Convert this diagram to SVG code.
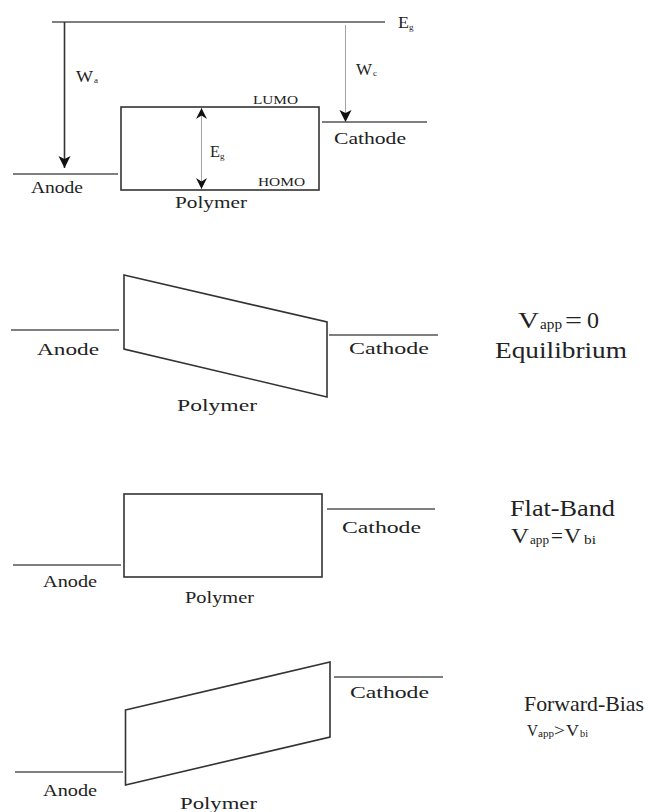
<svg xmlns="http://www.w3.org/2000/svg" width="651" height="812" viewBox="0 0 651 812">
<style>
  text { font-family: "Liberation Serif", "Times New Roman", serif; fill: #222; }
  .lbl { font-size: 17px; }
  .lbl1 { font-size: 16px; }
  .small { font-size: 12.5px; }
  .big { font-size: 23px; }
  .sub { font-size: 9px; }
  .level { stroke: #555; stroke-width: 1.6; fill: none; }
  .band { stroke: #333; stroke-width: 1.6; fill: #fff; }
  .thick { stroke: #333; stroke-width: 1.6; fill: none; }
  .thin { stroke: #999; stroke-width: 0.9; fill: none; }
</style>
<defs>
  <marker id="headBig" markerUnits="userSpaceOnUse" markerWidth="13" markerHeight="13" refX="12" refY="6" orient="auto">
    <path d="M0,0 L12,6 L0,12 L3,6 z" fill="#111"/>
  </marker>
  <marker id="headSmall" markerUnits="userSpaceOnUse" markerWidth="12" markerHeight="12" refX="11" refY="5.5" orient="auto-start-reverse">
    <path d="M0,0 L11,5.5 L0,11 L3.5,5.5 z" fill="#111"/>
  </marker>
</defs>

<rect width="651" height="812" fill="#fff"/>

<!-- Panel 1: energy levels -->
<g id="vacuum-level">
  <line class="level" x1="52" y1="22" x2="385" y2="22"/>
  <text x="398" y="28" style="font-size:17px" textLength="11" lengthAdjust="spacingAndGlyphs">E</text>
  <text x="409" y="30" class="sub">g</text>
</g>
<g id="p1-anode">
  <line class="level" x1="13" y1="174" x2="118" y2="174"/>
  <text x="31" y="193" class="lbl1" textLength="52" lengthAdjust="spacingAndGlyphs">Anode</text>
</g>
<g id="p1-polymer">
  <rect class="band" x="121" y="107" width="198" height="83"/>
  <text x="253" y="104" class="small" textLength="45" lengthAdjust="spacingAndGlyphs">LUMO</text>
  <text x="258" y="186" class="small" textLength="47" lengthAdjust="spacingAndGlyphs">HOMO</text>
  <text x="175" y="208" class="lbl1" textLength="72" lengthAdjust="spacingAndGlyphs">Polymer</text>
  <text x="210" y="157" class="lbl1" textLength="10" lengthAdjust="spacingAndGlyphs">E</text>
  <text x="220" y="159" class="sub">g</text>
</g>
<g id="p1-cathode">
  <line class="level" x1="322" y1="122" x2="427" y2="122"/>
  <text x="334" y="144" class="lbl1" textLength="72" lengthAdjust="spacingAndGlyphs">Cathode</text>
</g>

<g id="connectors">
  <line class="thick" x1="64.5" y1="22" x2="64.5" y2="168" marker-end="url(#headBig)"/>
  <line class="thin" x1="345.5" y1="25" x2="345.5" y2="122" marker-end="url(#headBig)"/>
  <line class="thin" x1="201.5" y1="108" x2="201.5" y2="189" marker-start="url(#headSmall)" marker-end="url(#headSmall)"/>
</g>
<g id="work-function-labels">
  <text x="76" y="82" class="lbl1" textLength="17" lengthAdjust="spacingAndGlyphs">W</text>
  <text x="94" y="83" class="sub" font-size="8">a</text>
  <text x="356" y="75" class="lbl1" textLength="16" lengthAdjust="spacingAndGlyphs">W</text>
  <text x="373" y="76" class="sub">c</text>
</g>

<!-- Panel 2: equilibrium -->
<g id="p2-anode">
  <line class="level" x1="11" y1="330" x2="119" y2="330"/>
  <text x="37" y="355" class="lbl" textLength="62" lengthAdjust="spacingAndGlyphs">Anode</text>
</g>
<g id="p2-polymer">
  <polygon class="band" points="124,275 327,322 327,397 124,349"/>
  <text x="177" y="411" class="lbl" textLength="80" lengthAdjust="spacingAndGlyphs">Polymer</text>
</g>
<g id="p2-cathode">
  <line class="level" x1="329" y1="335" x2="438" y2="335"/>
  <text x="349" y="354" class="lbl" textLength="80" lengthAdjust="spacingAndGlyphs">Cathode</text>
</g>
<g id="p2-label">
  <text x="518" y="328" class="big" textLength="21" lengthAdjust="spacingAndGlyphs">V</text>
  <text x="540" y="329" style="font-size:14px" textLength="22" lengthAdjust="spacingAndGlyphs">app</text>
  <text x="565" y="328" class="big" textLength="17" lengthAdjust="spacingAndGlyphs">=</text>
  <text x="587" y="328" class="big" textLength="12" lengthAdjust="spacingAndGlyphs">0</text>
  <text x="495" y="358" class="big" textLength="132" lengthAdjust="spacingAndGlyphs">Equilibrium</text>
</g>

<!-- Panel 3: flat band -->
<g id="p3-anode">
  <line class="level" x1="13" y1="565" x2="121" y2="565"/>
  <text x="43" y="587" class="lbl" textLength="54" lengthAdjust="spacingAndGlyphs">Anode</text>
</g>
<g id="p3-polymer">
  <rect class="band" x="124" y="494" width="198" height="83"/>
  <text x="185" y="603" class="lbl" textLength="69" lengthAdjust="spacingAndGlyphs">Polymer</text>
</g>
<g id="p3-cathode">
  <line class="level" x1="327" y1="509" x2="435" y2="509"/>
  <text x="342" y="533" class="lbl" textLength="79" lengthAdjust="spacingAndGlyphs">Cathode</text>
</g>
<g id="p3-label">
  <text x="510" y="516" class="big" textLength="105" lengthAdjust="spacingAndGlyphs">Flat-Band</text>
  <text x="511" y="543" style="font-size:20px" textLength="18" lengthAdjust="spacingAndGlyphs">V</text>
  <text x="530" y="544" style="font-size:12px" textLength="19" lengthAdjust="spacingAndGlyphs">app</text>
  <text x="551" y="543" style="font-size:20px" textLength="12" lengthAdjust="spacingAndGlyphs">=</text>
  <text x="564" y="543" style="font-size:20px" textLength="17" lengthAdjust="spacingAndGlyphs">V</text>
  <text x="584" y="544" style="font-size:12px" textLength="12" lengthAdjust="spacingAndGlyphs">bi</text>
</g>

<!-- Panel 4: forward bias -->
<g id="p4-anode">
  <line class="level" x1="15" y1="772" x2="123" y2="772"/>
  <text x="43" y="796" class="lbl" textLength="54" lengthAdjust="spacingAndGlyphs">Anode</text>
</g>
<g id="p4-polymer">
  <polygon class="band" points="125.5,710 330,662 330,737 125.5,785"/>
  <text x="180" y="809" class="lbl" textLength="77" lengthAdjust="spacingAndGlyphs">Polymer</text>
</g>
<g id="p4-cathode">
  <line class="level" x1="334" y1="677" x2="443" y2="677"/>
  <text x="350" y="698" class="lbl" textLength="79" lengthAdjust="spacingAndGlyphs">Cathode</text>
</g>
<g id="p4-label">
  <text x="524" y="711" style="font-size:22px" textLength="120" lengthAdjust="spacingAndGlyphs">Forward-Bias</text>
  <text x="527" y="736" style="font-size:17px" textLength="11" lengthAdjust="spacingAndGlyphs">V</text>
  <text x="538" y="737" style="font-size:11px" textLength="16" lengthAdjust="spacingAndGlyphs">app</text>
  <text x="554" y="736" style="font-size:17px" textLength="11" lengthAdjust="spacingAndGlyphs">&gt;</text>
  <text x="566" y="736" style="font-size:17px" textLength="13" lengthAdjust="spacingAndGlyphs">V</text>
  <text x="580" y="737" style="font-size:11px" textLength="8" lengthAdjust="spacingAndGlyphs">bi</text>
</g>
</svg>
